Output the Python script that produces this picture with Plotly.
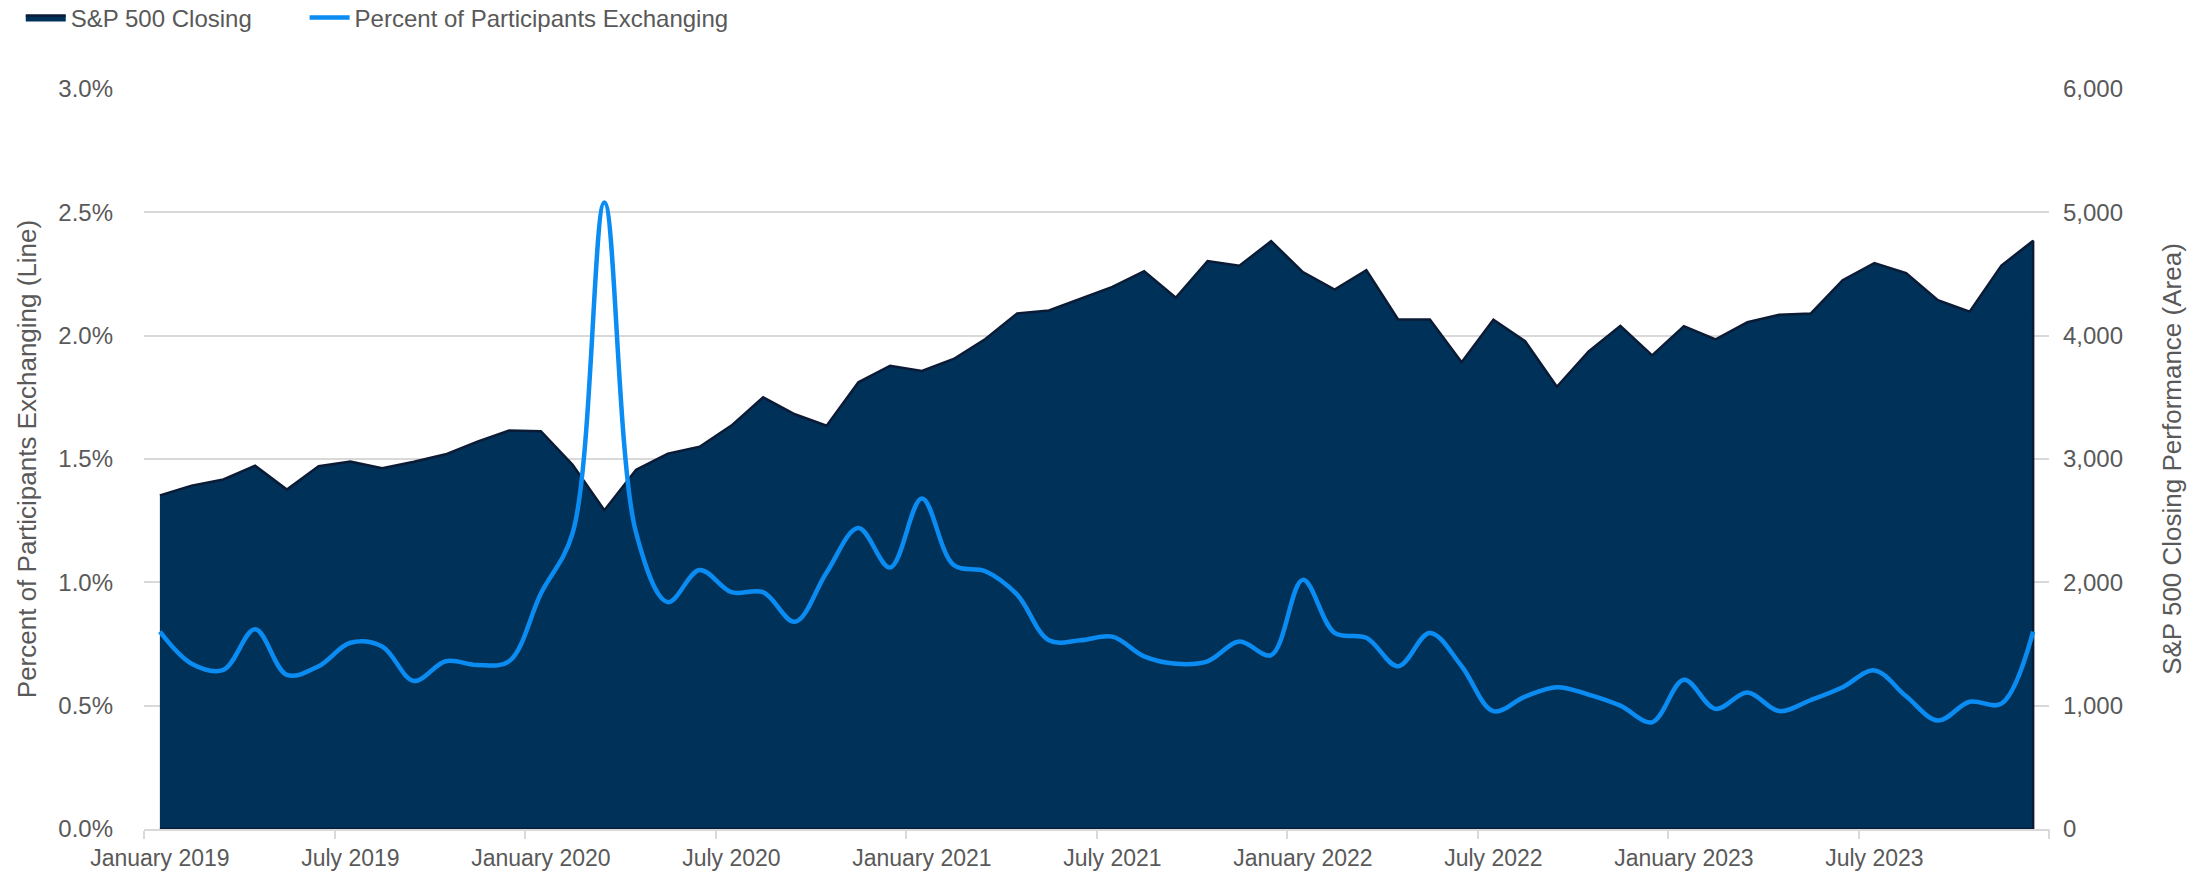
import plotly.graph_objects as go

month_names = ["January", "February", "March", "April", "May", "June", "July",
               "August", "September", "October", "November", "December"]
years = [2019, 2020, 2021, 2022, 2023]
months = [f"{m} {y}" for y in years for m in month_names]

sp500_close = [2704, 2784, 2834, 2946, 2752, 2942, 2980, 2926, 2977, 3038, 3141, 3231,
               3226, 2954, 2585, 2912, 3044, 3100, 3271, 3500, 3363, 3270, 3622, 3756,
               3714, 3811, 3973, 4181, 4204, 4298, 4395, 4523, 4308, 4605, 4567, 4766,
               4516, 4374, 4530, 4132, 4132, 3785, 4130, 3955, 3586, 3872, 4080, 3840,
               4077, 3970, 4109, 4169, 4180, 4450, 4589, 4508, 4288, 4194, 4568, 4770]

pct_exchanging = [0.80, 0.67, 0.645, 0.81, 0.625, 0.66, 0.755, 0.74, 0.60, 0.68, 0.665, 0.68,
                  0.955, 1.20, 2.54, 1.20, 0.92, 1.05, 0.96, 0.96, 0.84, 1.04, 1.22, 1.06,
                  1.34, 1.07, 1.045, 0.95, 0.765, 0.765, 0.78, 0.70, 0.67, 0.68, 0.76, 0.705,
                  1.01, 0.795, 0.775, 0.66, 0.795, 0.66, 0.478, 0.537, 0.575, 0.545, 0.50, 0.433,
                  0.605, 0.487, 0.553, 0.478, 0.523, 0.575, 0.643, 0.538, 0.44, 0.516, 0.508, 0.80]

FONT = "Arial, Liberation Sans, sans-serif"
GRAY = "#595959"
GRID = "#d9d9d9"

fig = go.Figure()

fig.add_trace(go.Scatter(
    x=months + [months[-1], months[0]],
    y=sp500_close + [0, 0],
    fill="toself", fillcolor="#003259",
    mode="lines", line=dict(color="#0b1b36", width=2.5),
    name="S&P 500 Closing", yaxis="y", legend="legend",
))

fig.add_trace(go.Scatter(
    x=months, y=pct_exchanging,
    mode="lines", line=dict(color="#0a8cf2", width=4.5, shape="spline", smoothing=1),
    name="Percent of Participants Exchanging", yaxis="y2", legend="legend2",
))

legend_common = dict(orientation="h", xanchor="left", y=1.096, yanchor="middle",
                     font=dict(size=24, color=GRAY), bgcolor="rgba(0,0,0,0)", itemwidth=40)

fig.update_layout(
    width=2204, height=872,
    margin=dict(l=144, r=155, t=89, b=43, autoexpand=False),
    paper_bgcolor="white", plot_bgcolor="white",
    font=dict(family=FONT, size=23, color=GRAY),
    showlegend=True,
    legend=dict(x=-0.0647, **legend_common),
    legend2=dict(x=0.0843, **legend_common),
    xaxis=dict(type="category", range=[-0.5, 59.5], tickmode="linear", tick0=0, dtick=6,
               tickson="boundaries", ticks="outside", ticklen=8, tickcolor=GRID, tickwidth=1.5,
               tickangle=0, ticklabelstandoff=8,
               showline=True, linecolor=GRID, linewidth=1.5, showgrid=False,
               tickfont=dict(size=23, color=GRAY)),
    yaxis=dict(side="right", range=[0, 6000], dtick=1000, tickformat=",",
               showgrid=True, gridcolor=GRID, gridwidth=1.5, zeroline=False,
               ticklabelstandoff=13, tickfont=dict(size=24, color=GRAY),
               title=dict(text="S&P 500 Closing Performance (Area)", standoff=40,
                          font=dict(size=26, color=GRAY))),
    yaxis2=dict(overlaying="y", side="left", range=[0, 3], dtick=0.5, tickformat=".1f",
                ticksuffix="%", showgrid=False, zeroline=False,
                ticklabelstandoff=30, tickfont=dict(size=24, color=GRAY),
                title=dict(text="Percent of Participants Exchanging (Line)", standoff=14,
                           font=dict(size=26, color=GRAY))),
)

fig.add_shape(type="line", xref="paper", yref="paper", x0=1, x1=1, y0=0, y1=-8 / 740,
              line=dict(color=GRID, width=1.5))

fig.write_html("out.html", config={"displayModeBar": False},
               post_script="document.body.style.margin='0px';document.body.style.overflow='hidden';")
